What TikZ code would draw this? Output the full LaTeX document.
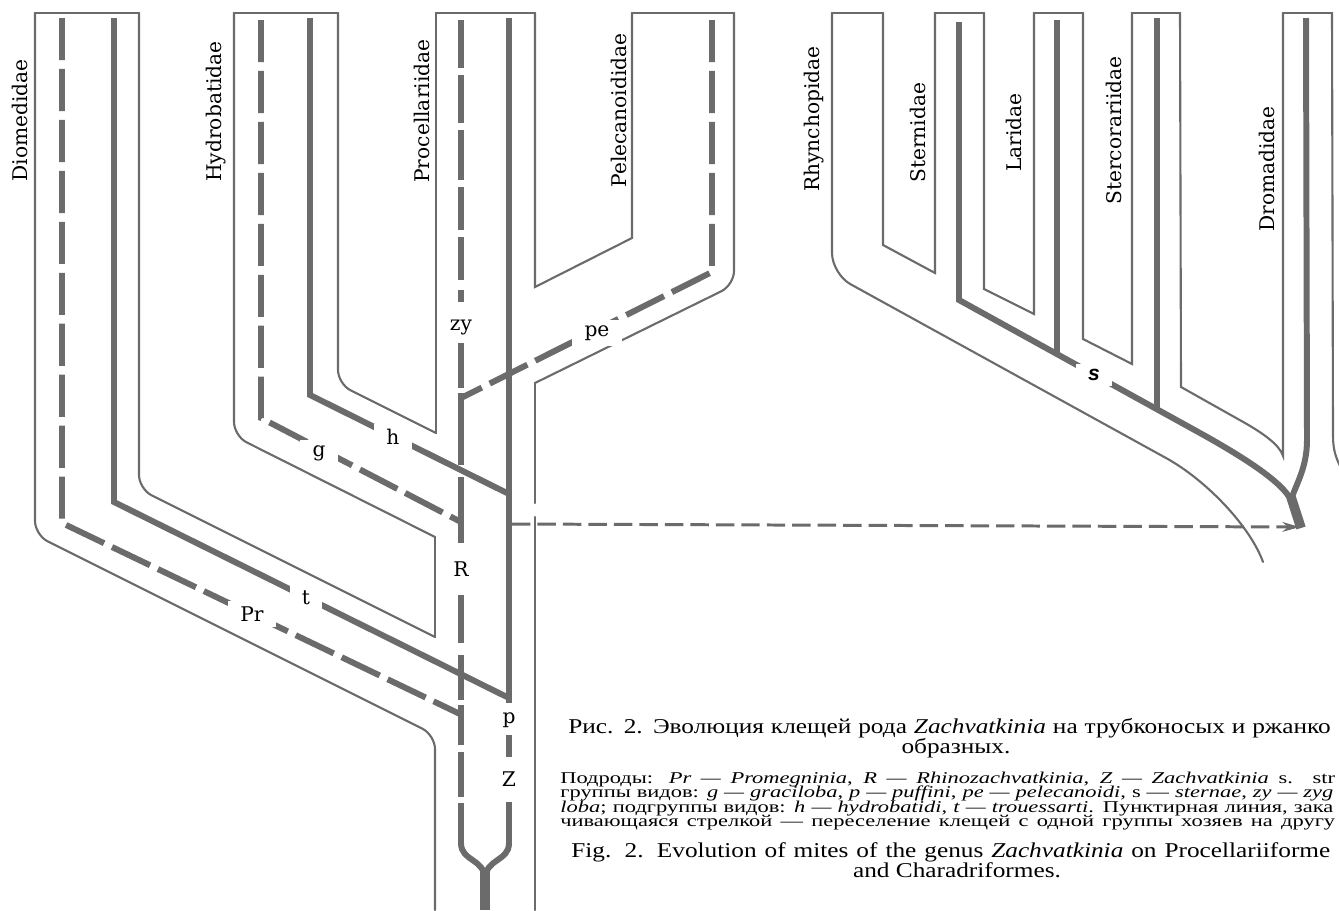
\documentclass[tikz,border=0pt]{standalone}
\usepackage{graphicx}
\usepackage{fontspec}
\setmainfont{Liberation Serif}
\newfontfamily\taxfont{DejaVu Serif}
\newfontfamily\sfbold{Liberation Sans}
\usetikzlibrary{arrows.meta}
\definecolor{ink}{gray}{0.42}
\newcommand{\bigline}[2]{\scalebox{1.2}[1]{\makebox[\dimexpr #1pt*100/120\relax][s]{#2}}}
\newcommand{\smallline}[2]{\scalebox{1.36}[1]{\makebox[\dimexpr #1pt*100/136\relax][s]{#2}}}

\begin{document}
\begin{tikzpicture}[x=0.02cm,y=-0.02cm,
    wall/.style={ink,line width=1.2pt,line cap=round},
    lineage/.style={ink,line width=3.4pt},
    lineagedash/.style={lineage,dash pattern=on 24pt off 5pt},
    stem/.style={ink,line width=5.5pt},
    hostarrow/.style={ink,line width=1.7pt,dash pattern=on 10.5pt off 4pt,-{Stealth[length=10pt,width=5.5pt]}},
    grp/.style={fill=white,inner xsep=7pt,inner ysep=3pt,font=\taxfont\fontsize{11.5}{12}\selectfont},
    taxon/.style={rotate=90,anchor=mid west,inner sep=0pt,font=\taxfont\fontsize{11.5}{12}\selectfont},
    bigcap/.style={inner sep=0pt,font=\fontsize{12}{13}\selectfont},
    smallcap/.style={anchor=base west,inner sep=0pt,font=\fontsize{9.4}{10}\selectfont}]
\useasboundingbox (0,0) rectangle (1339,910);

% Procellariiformes: host tubes
\draw[wall] (35,13) -- (139,13) (234,13) -- (338,13) (436,13) -- (535,13) (632,13) -- (734,13);
\draw[wall,rounded corners=8pt] (35,13) -- (35,535) -- (435,735) -- (435,910);
\draw[wall,rounded corners=8pt] (139,13) -- (139,489) -- (435,637);
\draw[wall] (435,637) -- (435,537);
\draw[wall,rounded corners=8pt] (435,537) -- (234,436) -- (234,13);
\draw[wall,rounded corners=8pt] (338,13) -- (338,384) -- (436,433);
\draw[wall] (436,433) -- (436,13);
\draw[wall] (535,13) -- (535,287) -- (632,238) -- (632,13);
\draw[wall,rounded corners=8pt] (734,13) -- (734,285) -- (535,383);
\draw[wall] (535,383) -- (535,503) (535,517) -- (535,910);

% mite lineages
\draw[lineagedash] (62,18) -- (62,523) -- (460,714);
\draw[lineage] (114,18) -- (114,502) -- (509,698);
\draw[lineagedash] (261,20) -- (261,418) -- (461,522);
\draw[lineage] (310,18) -- (310,395) -- (509,494);
\draw[lineagedash] (712,20) -- (712,272) -- (461,398);
\foreach \a/\b in {20/68,75/123,130/180,187/230,237/280,290/302,343/388,393/465,477/543,595/643,655/700,705/745,752/797}
  \draw[lineage] (461,\a) -- (461,\b);
\draw[lineage] (461,803) -- (461,843) .. controls (461,862) and (485,858) .. (485,880);
\draw[lineage] (509,18) -- (509,703) (509,735) -- (509,757);
\draw[lineage] (509,802) -- (509,843) .. controls (509,862) and (485,858) .. (485,880);
\draw[stem] (485,868) -- (485,910);

% Charadriiformes: host tubes
\draw[wall] (832,13) -- (883,13) (935,13) -- (984,13) (1034,13) -- (1083,13) (1132,13) -- (1180,13) (1283,13) -- (1332,13);
\draw[wall,rounded corners=12pt] (832,13) -- (832,274) -- (1166,458);
\draw[wall] (1166,458) .. controls (1206,480) and (1250,526) .. (1263,562);
\draw[wall] (883,13) -- (883,245) -- (935,273) -- (935,13);
\draw[wall] (984,13) -- (984,289) -- (1034,314) -- (1034,13);
\draw[wall] (1083,13) -- (1083,339) -- (1132,364) -- (1132,13);
\draw[wall] (1180,13) -- (1181,387) -- (1245,423) .. controls (1266,435) and (1280,446) .. (1283,456) -- (1283,13);
\draw[wall] (1332,13) -- (1333,436) .. controls (1333,450) and (1336,458) .. (1341,468);

\draw[lineage] (959,22) -- (959,300) -- (1200,433) .. controls (1245,458) and (1282,482) .. (1291,500);
\draw[lineage] (1057,20) -- (1057,354);
\draw[lineage] (1157,18) -- (1157,409);
\draw[lineage] (1306,18) -- (1307,440) .. controls (1307,468) and (1296,484) .. (1291,500);
\draw[stem] (1291,497) -- (1301,528);

% migration
\coordinate (migfrom) at (512,524);
\coordinate (migto) at (1300,527);
\draw[hostarrow] (migfrom) -- (migto);

% group labels
\node[grp] (zy) at (461,327) {zy};
\node[grp] (pe) at (597,333) {pe};
\node[grp] (h) at (393,437) {h};
\node[grp] (g) at (319,453) {g};
\node[grp] (R) at (461,569) {R};
\node[grp] (t) at (306,598) {t};
\node[grp] (Pr) at (252,614) {Pr};
\node[grp] (p) at (509,720) {p};
\node[grp] (Z) at (509,779) {Z};
\node[grp,font=\sfbold\bfseries\itshape\fontsize{12}{12}\selectfont] (s) at (1094,375) {s};

% host families
\node[taxon] (diomedidae) at (23,182) {Diomedidae};
\node[taxon] (hydrobatidae) at (217,182) {Hydrobatidae};
\node[taxon] (procellariidae) at (425,183) {Procellariidae};
\node[taxon] (pelecanoididae) at (622,188) {Pelecanoididae};
\node[taxon] (rhynchopidae) at (815,192) {Rhynchopidae};
\node[taxon] (sternidae) at (921,183) {Sternidae};
\node[taxon] (laridae) at (1017,172) {Laridae};
\node[taxon] (stercorariidae) at (1117,205) {Stercorariidae};
\node[taxon] (dromadidae) at (1270,232) {Dromadidae};

% caption
\node[bigcap,anchor=base west] (capru) at (568,733)
  {\bigline{434}{Рис. 2. Эволюция клещей рода \textit{Zachvatkinia} на трубконосых и ржанко}};
\node[bigcap,anchor=base] (capru2) at (956,753) {\scalebox{1.2}[1]{образных.}};
\node[smallcap] (key1) at (560,783)
  {\smallline{441}{Подроды: \textit{Pr — Promegninia}, \textit{R — Rhinozachvatkinia}, \textit{Z — Zachvatkinia} s. str}};
\node[smallcap] (key2) at (560,797)
  {\smallline{440}{группы видов: \textit{g — graciloba}, \textit{p — puffini}, \textit{pe — pelecanoidi}, s — \textit{sternae}, \textit{zy — zyg}}};
\node[smallcap] (key3) at (560,812)
  {\smallline{440}{\textit{loba}; подгруппы видов: \textit{h — hydrobatidi}, \textit{t — trouessarti}. Пунктирная линия, зака}};
\node[smallcap] (key4) at (560,826)
  {\smallline{441}{чивающаяся стрелкой — переселение клещей с одной группы хозяев на другу}};
\node[bigcap,anchor=base west] (capen) at (571,857)
  {\bigline{432}{Fig. 2. Evolution of mites of the genus \textit{Zachvatkinia} on Procellariiforme}};
\node[bigcap,anchor=base] (capen2) at (957,877) {\scalebox{1.2}[1]{and Charadriformes.}};
\end{tikzpicture}
\end{document}
